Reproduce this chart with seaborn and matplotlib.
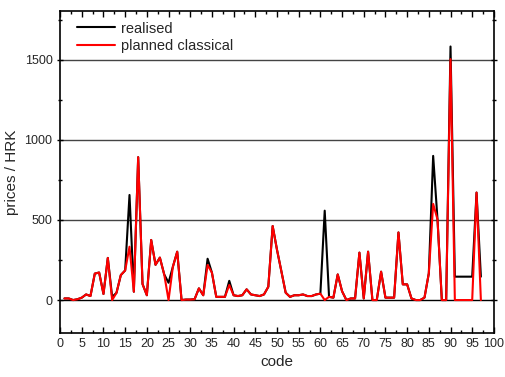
import numpy as np
import pandas as pd
import matplotlib
matplotlib.use("Agg")
import matplotlib.pyplot as plt
from matplotlib.ticker import MultipleLocator
import seaborn as sns

codes = np.arange(1, 98)

realised = [10, 10, 0, 5, 15, 35, 25, 165, 172, 38,
            263, 20, 45, 156, 185, 656, 52, 892, 100, 30,
            375, 220, 265, 160, 108, 208, 302, 0, 3, 3,
            5, 73, 30, 258, 171, 20, 20, 20, 120, 30,
            25, 30, 67, 35, 30, 25, 35, 83, 462, 314,
            181, 46, 20, 30, 30, 35, 25, 25, 35, 40,
            558, 20, 15, 160, 55, 0, 10, 10, 296, 10,
            302, 0, 0, 177, 15, 15, 15, 422, 98, 98,
            10, 0, 0, 15, 167, 900, 504, 0, 0, 1583,
            146, 146, 146, 146, 146, 671, 146]

planned = [10, 10, 0, 5, 15, 35, 25, 165, 172, 38,
           263, 0, 45, 156, 185, 333, 52, 892, 100, 30,
           375, 220, 265, 160, 0, 208, 302, 0, 3, 3,
           5, 73, 30, 219, 171, 20, 20, 20, 94, 30,
           25, 30, 67, 35, 30, 25, 35, 83, 462, 314,
           181, 46, 20, 30, 30, 35, 25, 25, 35, 40,
           0, 20, 15, 160, 55, 0, 10, 10, 296, 10,
           302, 0, 0, 177, 15, 15, 15, 422, 98, 98,
           10, 0, 0, 15, 167, 600, 504, 0, 0, 1504,
           0, 0, 0, 0, 0, 671, 0]

series_names = ["realised", "planned classical"]
series_colors = ["black", "red"]

df = pd.concat([
    pd.DataFrame({"code": codes, "price": realised, "series": series_names[0]}),
    pd.DataFrame({"code": codes, "price": planned, "series": series_names[1]}),
])

sns.set_style("ticks")
plt.rcParams["font.family"] = ["Liberation Sans", "DejaVu Sans"]

fig = plt.figure(figsize=(5.05, 3.77), dpi=100)
ax = fig.add_axes([0.119, 0.117, 0.859, 0.854])

# horizontal reference lines
for v in [500, 1000, 1500]:
    ax.axhline(v, color="#444444", lw=1.0, zorder=0)
ax.axhline(0, color="black", lw=1.0, zorder=0)

sns.lineplot(data=df, x="code", y="price", hue="series",
             palette=dict(zip(series_names, series_colors)),
             linewidth=1.5, ax=ax)

ax.set_xlim(0, 100)
ax.set_ylim(-205, 1805)
ax.xaxis.set_major_locator(MultipleLocator(5))
ax.xaxis.set_minor_locator(MultipleLocator(2.5))
ax.yaxis.set_minor_locator(MultipleLocator(250))
ax.set_yticks([0, 500, 1000, 1500])

ax.tick_params(which="both", direction="in", top=True,
               labelsize=9, width=1, color="black")
ax.tick_params(which="major", length=4)
ax.tick_params(which="minor", length=2.5)
ax.tick_params(axis="y", which="both", left=True, right=True, direction="inout")
for s in ax.spines.values():
    s.set_linewidth(1.2)
    s.set_color("black")

ax.set_xlabel("code", fontsize=11)
ax.set_ylabel("prices / HRK", fontsize=11)

handles, labels = ax.get_legend_handles_labels()
ax.legend(handles, labels, loc="upper left", frameon=False, fontsize=10.5,
          handlelength=2.6, handletextpad=0.4, labelspacing=0.25,
          borderaxespad=0.0, bbox_to_anchor=(0.025, 0.985))

fig.savefig("out.png", dpi=100)
